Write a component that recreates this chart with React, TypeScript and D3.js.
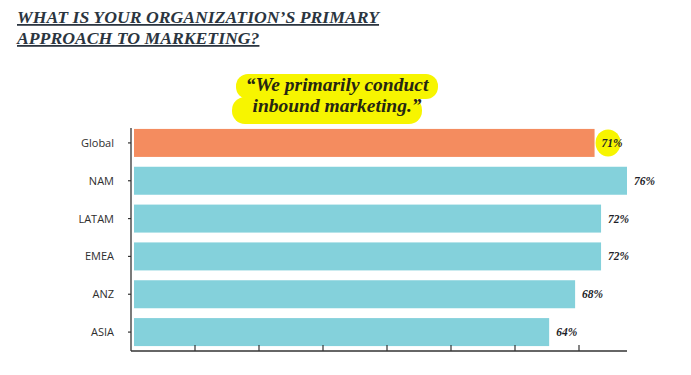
import React from 'react';
import * as d3 from 'd3';

// Chart data
const categories = ['Global', 'NAM', 'LATAM', 'EMEA', 'ANZ', 'ASIA'];
const values = [71, 76, 72, 72, 68, 64];
const highlighted = 'Global';
// Unlabeled axis ticks (the original axis has no numbers)
const axisTicks = [1, 2, 3, 4, 5, 6, 7];

const titleLines = ['WHAT IS YOUR ORGANIZATION\u2019S PRIMARY', 'APPROACH TO MARKETING?'];
const quoteLines = ['\u201cWe primarily conduct', 'inbound marketing.\u201d'];

const width = 691;
const height = 375;

const serif = '"Liberation Serif", "DejaVu Serif", serif';
const sans = '"Open Sans", "Noto Sans", sans-serif';

export default function App() {
  const plot = { left: 131, right: 627, top: 128, bottom: 351 };

  const xScale = d3.scaleLinear()
    .domain([0, d3.max(values) as number])
    .range([plot.left + 3, plot.right]);

  const axisScale = d3.scaleLinear()
    .domain([0, 7.75])
    .range([plot.left, plot.right]);

  const yScale = d3.scaleBand<string>()
    .domain(categories)
    .range([124, plot.bottom])
    .paddingInner(0.26)
    .paddingOuter(0.13);

  const bw = yScale.bandwidth();

  return (
    <div style={{ position: 'absolute', left: 0, top: 0, width, height, background: '#fff' }}>
      <svg width={width} height={height} style={{ display: 'block' }}>
        {/* Title */}
        {titleLines.map((t, i) => (
          <text
            key={i}
            x={17}
            y={23 + i * 21}
            fontFamily={serif}
            fontWeight="bold"
            fontStyle="italic"
            fontSize={17.7}
            fill="#2b3540"
            style={{ textDecoration: 'underline' }}
          >
            {t}
          </text>
        ))}

        {/* Quote highlight */}
        <rect x={236} y={74} width={202} height={25} rx={12} fill="#f7f500" />
        <rect x={232} y={97} width={190} height={27} rx={13} fill="#f7f500" />
        {quoteLines.map((t, i) => (
          <text
            key={i}
            x={337}
            y={91 + i * 21}
            textAnchor="middle"
            fontFamily={serif}
            fontWeight="bold"
            fontStyle="italic"
            fontSize={19.5}
            fill="#262612"
          >
            {t}
          </text>
        ))}

        {/* Bars */}
        {categories.map((c, i) => {
          const y0 = yScale(c) as number;
          const v = values[i];
          const isHi = c === highlighted;
          const cy = y0 + bw / 2;
          return (
            <g key={c}>
              <rect
                x={xScale(0)}
                y={y0}
                width={xScale(v) - xScale(0)}
                height={bw}
                fill={isHi ? '#f48c5f' : '#84d1db'}
              />
              {isHi && (
                <ellipse cx={xScale(v) + 13.5} cy={cy} rx={12.5} ry={13.5} fill="#f7f500" />
              )}
              <text
                x={xScale(v) + 7}
                y={cy + 4}
                fontFamily={serif}
                fontWeight="bold"
                fontStyle="italic"
                fontSize={11.5}
                fill="#1e1e28"
              >
                {v}%
              </text>
              <text
                x={114}
                y={cy + 4}
                textAnchor="end"
                fontFamily={sans}
                fontSize={11}
                fill="#2e2e2e"
              >
                {c}
              </text>
              <line x1={plot.left - 3} x2={plot.left} y1={cy} y2={cy} stroke="#333" strokeWidth={1.2} />
            </g>
          );
        })}

        {/* Axes */}
        <line x1={plot.left} x2={plot.left} y1={plot.top} y2={plot.bottom} stroke="#333" strokeWidth={1.3} />
        <line x1={plot.left} x2={plot.right} y1={plot.bottom} y2={plot.bottom} stroke="#333" strokeWidth={1.3} />
        {axisTicks.map((t) => (
          <line
            key={t}
            x1={axisScale(t)}
            x2={axisScale(t)}
            y1={plot.bottom - 6}
            y2={plot.bottom}
            stroke="#333"
            strokeWidth={1.2}
          />
        ))}
      </svg>
    </div>
  );
}
